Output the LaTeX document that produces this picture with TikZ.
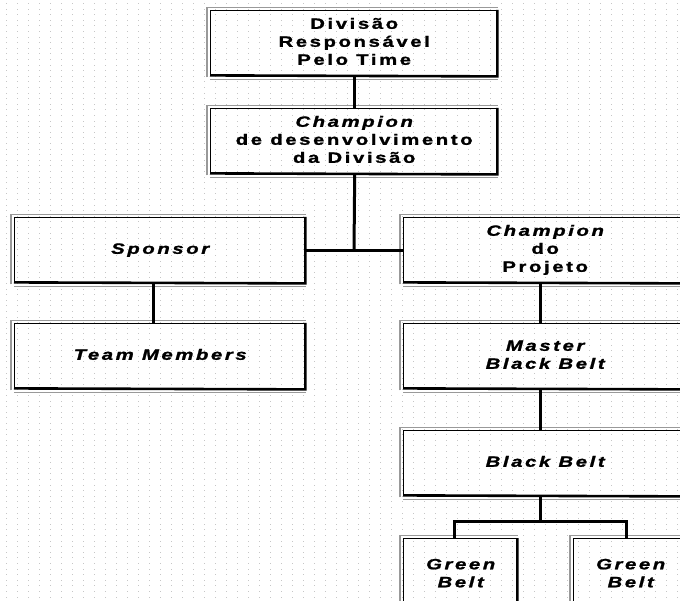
\documentclass[tikz,border=0pt]{standalone}
\usepackage{fontspec}
\newfontfamily\boxfont[LetterSpace=13,BoldFeatures={FakeBold=1.2},BoldItalicFeatures={FakeBold=1.2}]{Liberation Sans}
% widened, centred block of lines
\newcommand\widetext[1]{\scalebox{1.35}[1]{\begin{tabular}{@{}c@{}}#1\end{tabular}}}
\begin{document}
\begin{tikzpicture}[x=1pt,y=-1pt,
  orgbox/.style={draw=black,line width=1.4pt,fill=none,anchor=north west,
    inner sep=0pt,align=center,
    font=\boxfont\bfseries\fontsize{15}{18}\selectfont},
  link/.style={draw=black,line width=3pt},
  rim/.style={draw=gray!80,line width=1.6pt},
  shade/.style={draw=black,line width=2.6pt}]
\useasboundingbox (0,0) rectangle (680,601);
\clip (0,0) rectangle (680,601);
\fill[white] (0,0) rectangle (680,601);
% dotted paper grid
\foreach \gx in {6,17,...,680}
  \foreach \gy in {3,8.6,...,601}
    \fill[gray!45] (\gx,\gy) rectangle ++(1.2,1);

% boxes
\node[orgbox,minimum width=287pt,minimum height=65pt] (div) at (210,10)
  {\widetext{Divisão\\Responsável\\Pelo Time}};
\node[orgbox,minimum width=287pt,minimum height=65pt] (chd) at (210,108)
  {\widetext{\itshape Champion\\de desenvolvimento\\da Divisão}};
\node[orgbox,minimum width=291pt,minimum height=65pt] (spo) at (14,217)
  {\widetext{\itshape Sponsor}};
\node[orgbox,minimum width=283pt,minimum height=65pt] (chp) at (403,217)
  {\widetext{\itshape Champion\\do\\Projeto}};
\node[orgbox,minimum width=291pt,minimum height=65pt] (team) at (14,323)
  {\widetext{\itshape Team Members}};
\node[orgbox,minimum width=283pt,minimum height=65pt] (mbb) at (403,323)
  {\widetext{\itshape Master\\\itshape Black Belt}};
\node[orgbox,minimum width=283pt,minimum height=65pt] (bb) at (403,430)
  {\widetext{\itshape Black Belt}};
\node[orgbox,minimum width=114pt,minimum height=72pt] (gb1) at (403,538)
  {\widetext{\itshape Green\\\itshape Belt}};
\node[orgbox,minimum width=114pt,minimum height=72pt] (gb2) at (573,538)
  {\widetext{\itshape Green\\\itshape Belt}};

% raised-panel edges: grey rim on left/top, heavy black on right/bottom
\foreach \n in {div,chd,spo,chp,team,mbb,bb,gb1,gb2}{
  \draw[rim] ([xshift=-3pt,yshift=-1pt]\n.south west) |- ([yshift=2.5pt]\n.north east);
  \draw[rim] ([yshift=-3pt]\n.south west) -- ([yshift=-3pt]\n.south east);
  \draw[shade] ([xshift=-1pt]\n.north east) -- ([xshift=-1pt]\n.south east)
     -- ([yshift=1pt]\n.south west);
}

% connectors
\coordinate (hub) at (354,251);
\coordinate (split) at (540,521);
\draw[link] ([xshift=0.5pt]div.south) -- ([xshift=0.5pt]chd.north);
\draw[link] ([xshift=0.5pt]chd.south) -- (hub);
\draw[link] (spo.east |- hub) -- (chp.west |- hub);
\draw[link] (spo.south -| 153,0) -- (team.north -| 153,0);
\draw[link] (chp.south -| split) -- (mbb.north -| split);
\draw[link] (mbb.south -| split) -- (bb.north -| split);
\draw[link] (bb.south -| split) -- (split);
\draw[link] (gb1.north -| 454,0) |- (split) -| (gb2.north -| 626,0);
\end{tikzpicture}
\end{document}
